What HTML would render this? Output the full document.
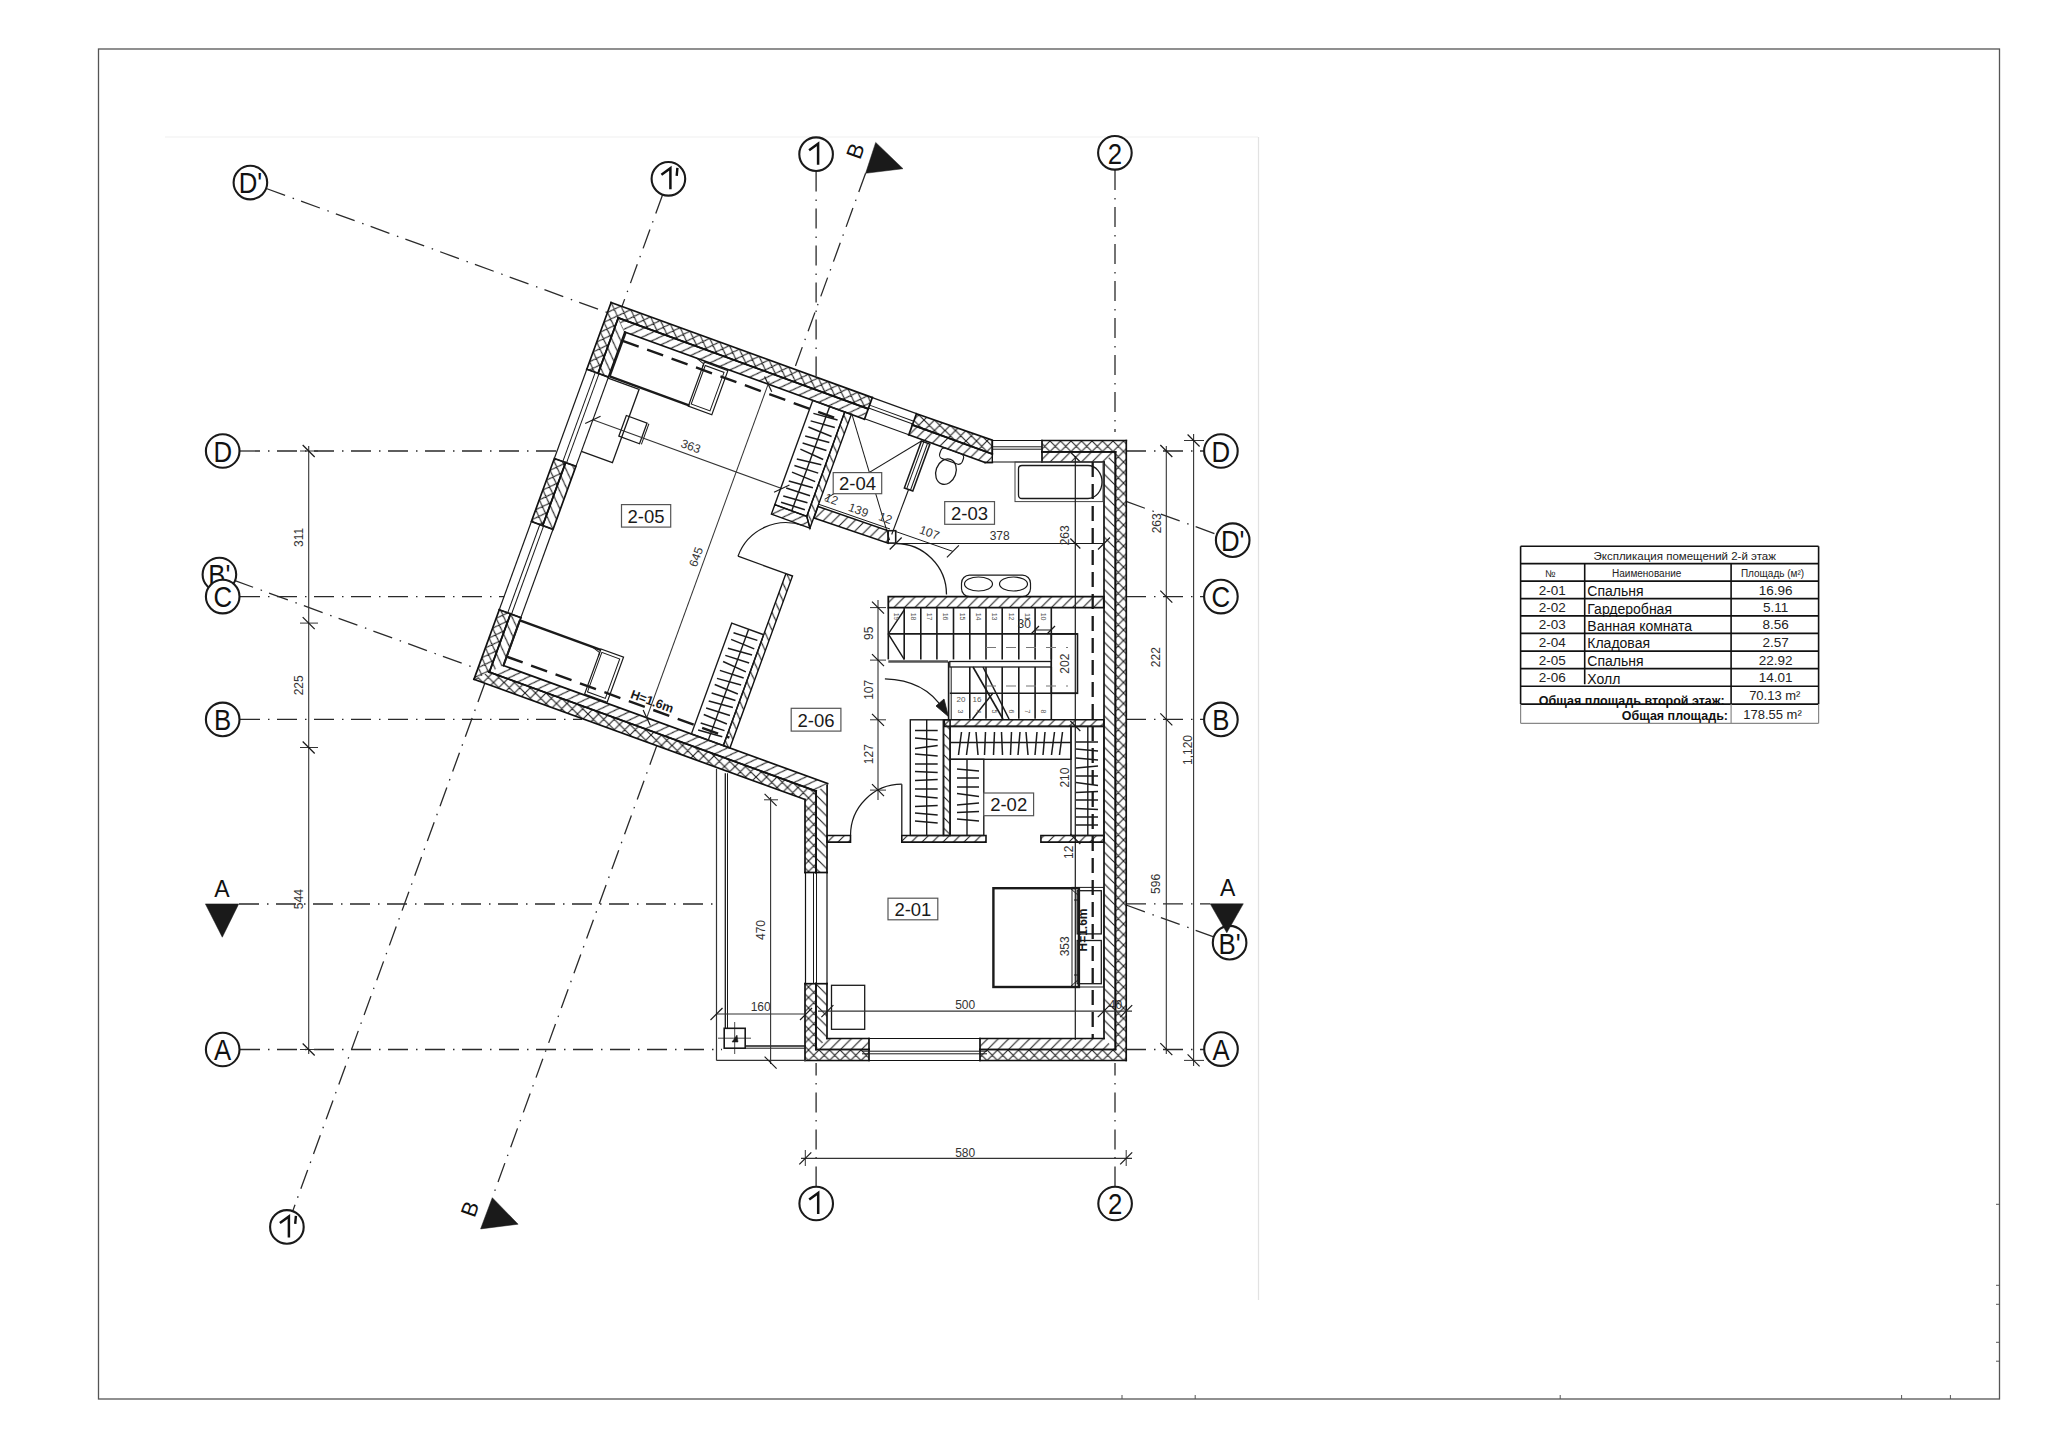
<!DOCTYPE html><html><head><meta charset="utf-8"><style>html,body{margin:0;padding:0;background:#fff;}svg{display:block;}text{font-family:"Liberation Sans",sans-serif;}</style></head><body>
<svg width="2048" height="1448" viewBox="0 0 2048 1448">
<defs>
<pattern id="cr" patternUnits="userSpaceOnUse" width="10.5" height="10.5"><path d="M0,0L10.5,10.5M10.5,0L0,10.5M-1,9.5L1,11.5M9.5,-1L11.5,1M-1,1L1,-1M9.5,11.5L11.5,9.5" stroke="#1e1e1e" stroke-width="1.1"/></pattern>
<pattern id="dh" patternUnits="userSpaceOnUse" width="10.5" height="10.5"><path d="M0,10.5L10.5,0M-2,2L2,-2M8.5,12.5L12.5,8.5" stroke="#1e1e1e" stroke-width="1.1"/></pattern>
<pattern id="dv" patternUnits="userSpaceOnUse" width="10.5" height="10.5"><path d="M0,0L10.5,10.5M-2,8.5L2,12.5M8.5,-2L12.5,2" stroke="#1e1e1e" stroke-width="1.1"/></pattern>
</defs>
<rect width="2048" height="1448" fill="#fff"/>
<line x1="165.0" y1="137.0" x2="1258.0" y2="137.0" stroke="#efefef" stroke-width="1" />
<line x1="1258.5" y1="137.0" x2="1258.5" y2="1300.0" stroke="#e2e2e2" stroke-width="1.2" />
<rect x="98.5" y="49.0" width="1901.0" height="1350.0" fill="none" stroke="#555" stroke-width="1.3" />
<line x1="1996.0" y1="1204.3" x2="2000.0" y2="1204.3" stroke="#555" stroke-width="1" />
<line x1="1996.0" y1="1285.3" x2="2000.0" y2="1285.3" stroke="#555" stroke-width="1" />
<line x1="1996.0" y1="1304.3" x2="2000.0" y2="1304.3" stroke="#555" stroke-width="1" />
<line x1="1996.0" y1="1342.3" x2="2000.0" y2="1342.3" stroke="#555" stroke-width="1" />
<line x1="1996.0" y1="1361.2" x2="2000.0" y2="1361.2" stroke="#555" stroke-width="1" />
<line x1="1122.0" y1="1395.0" x2="1122.0" y2="1399.0" stroke="#555" stroke-width="1" />
<line x1="1195.2" y1="1395.0" x2="1195.2" y2="1399.0" stroke="#555" stroke-width="1" />
<line x1="1560.2" y1="1395.0" x2="1560.2" y2="1399.0" stroke="#555" stroke-width="1" />
<line x1="1901.6" y1="1395.0" x2="1901.6" y2="1399.0" stroke="#555" stroke-width="1" />
<line x1="1950.4" y1="1395.0" x2="1950.4" y2="1399.0" stroke="#555" stroke-width="1" />
<line x1="240.0" y1="451.0" x2="557.0" y2="451.0" stroke="#2a2a2a" stroke-width="1.3" stroke-dasharray="20 8 1.5 7.5" stroke-dashoffset="0"/>
<line x1="1126.0" y1="451.0" x2="1204.0" y2="451.0" stroke="#2a2a2a" stroke-width="1.3" stroke-dasharray="20 8 1.5 7.5" stroke-dashoffset="0"/>
<line x1="240.0" y1="596.6" x2="504.0" y2="596.6" stroke="#2a2a2a" stroke-width="1.3" stroke-dasharray="20 8 1.5 7.5" stroke-dashoffset="0"/>
<line x1="1126.0" y1="596.6" x2="1204.0" y2="596.6" stroke="#2a2a2a" stroke-width="1.3" stroke-dasharray="20 8 1.5 7.5" stroke-dashoffset="0"/>
<line x1="240.0" y1="719.4" x2="582.0" y2="719.4" stroke="#2a2a2a" stroke-width="1.3" stroke-dasharray="20 8 1.5 7.5" stroke-dashoffset="0"/>
<line x1="1126.0" y1="719.4" x2="1204.0" y2="719.4" stroke="#2a2a2a" stroke-width="1.3" stroke-dasharray="20 8 1.5 7.5" stroke-dashoffset="0"/>
<line x1="240.0" y1="1049.5" x2="722.0" y2="1049.5" stroke="#2a2a2a" stroke-width="1.3" stroke-dasharray="20 8 1.5 7.5" stroke-dashoffset="0"/>
<line x1="1126.0" y1="1049.5" x2="1204.0" y2="1049.5" stroke="#2a2a2a" stroke-width="1.3" stroke-dasharray="20 8 1.5 7.5" stroke-dashoffset="0"/>
<line x1="239.0" y1="904.0" x2="716.0" y2="904.0" stroke="#2a2a2a" stroke-width="1.3" stroke-dasharray="20 8 1.5 7.5" stroke-dashoffset="0"/>
<line x1="1126.0" y1="903.8" x2="1210.0" y2="903.8" stroke="#2a2a2a" stroke-width="1.3" stroke-dasharray="20 8 1.5 7.5" stroke-dashoffset="0"/>
<line x1="816.1" y1="171.5" x2="816.1" y2="376.0" stroke="#2a2a2a" stroke-width="1.3" stroke-dasharray="20 8 1.5 7.5" stroke-dashoffset="0"/>
<line x1="816.1" y1="1186.5" x2="816.1" y2="1063.0" stroke="#2a2a2a" stroke-width="1.3" stroke-dasharray="20 8 1.5 7.5" stroke-dashoffset="0"/>
<line x1="1115.0" y1="170.0" x2="1115.0" y2="432.0" stroke="#2a2a2a" stroke-width="1.3" stroke-dasharray="20 8 1.5 7.5" stroke-dashoffset="0"/>
<line x1="1115.0" y1="1186.5" x2="1115.0" y2="1063.0" stroke="#2a2a2a" stroke-width="1.3" stroke-dasharray="20 8 1.5 7.5" stroke-dashoffset="0"/>
<line x1="662.6" y1="194.8" x2="622.0" y2="306.4" stroke="#2a2a2a" stroke-width="1.3" stroke-dasharray="20 8 1.5 7.5" stroke-dashoffset="0"/>
<line x1="484.8" y1="683.2" x2="292.9" y2="1210.6" stroke="#2a2a2a" stroke-width="1.3" stroke-dasharray="20 8 1.5 7.5" stroke-dashoffset="0"/>
<line x1="865.6" y1="173.3" x2="794.3" y2="369.1" stroke="#2a2a2a" stroke-width="1.3" stroke-dasharray="20 8 1.5 7.5" stroke-dashoffset="0"/>
<line x1="656.7" y1="745.9" x2="492.3" y2="1197.7" stroke="#2a2a2a" stroke-width="1.3" stroke-dasharray="20 8 1.5 7.5" stroke-dashoffset="0"/>
<line x1="266.3" y1="188.5" x2="607.4" y2="312.6" stroke="#2a2a2a" stroke-width="1.3" stroke-dasharray="20 8 1.5 7.5" stroke-dashoffset="0"/>
<line x1="1126.1" y1="501.4" x2="1216.8" y2="534.4" stroke="#2a2a2a" stroke-width="1.3" stroke-dasharray="20 8 1.5 7.5" stroke-dashoffset="0"/>
<line x1="234.3" y1="580.4" x2="477.7" y2="669.0" stroke="#2a2a2a" stroke-width="1.3" stroke-dasharray="20 8 1.5 7.5" stroke-dashoffset="0"/>
<line x1="1126.1" y1="905.0" x2="1214.4" y2="937.1" stroke="#2a2a2a" stroke-width="1.3" stroke-dasharray="20 8 1.5 7.5" stroke-dashoffset="0"/>
<circle cx="250.4" cy="182.6" r="16.8" fill="white" stroke="#1a1a1a" stroke-width="2.1"/>
<text transform="translate(250.4,193.4) scale(0.86,1)" font-size="30" text-anchor="middle" fill="#111">D'</text>
<circle cx="222.7" cy="451.0" r="16.8" fill="white" stroke="#1a1a1a" stroke-width="2.1"/>
<text transform="translate(222.7,461.8) scale(0.86,1)" font-size="30" text-anchor="middle" fill="#111">D</text>
<circle cx="219.4" cy="574.5" r="16.8" fill="white" stroke="#1a1a1a" stroke-width="2.1"/>
<text transform="translate(219.4,585.3) scale(0.86,1)" font-size="30" text-anchor="middle" fill="#111">B'</text>
<circle cx="222.7" cy="596.6" r="16.8" fill="white" stroke="#1a1a1a" stroke-width="2.1"/>
<text transform="translate(222.7,607.4) scale(0.86,1)" font-size="30" text-anchor="middle" fill="#111">C</text>
<circle cx="222.7" cy="719.4" r="16.8" fill="white" stroke="#1a1a1a" stroke-width="2.1"/>
<text transform="translate(222.7,730.2) scale(0.86,1)" font-size="30" text-anchor="middle" fill="#111">B</text>
<circle cx="222.7" cy="1049.5" r="16.8" fill="white" stroke="#1a1a1a" stroke-width="2.1"/>
<text transform="translate(222.7,1060.3) scale(0.86,1)" font-size="30" text-anchor="middle" fill="#111">A</text>
<circle cx="1220.9" cy="451.0" r="16.8" fill="white" stroke="#1a1a1a" stroke-width="2.1"/>
<text transform="translate(1220.9,461.8) scale(0.86,1)" font-size="30" text-anchor="middle" fill="#111">D</text>
<circle cx="1232.7" cy="540.2" r="16.8" fill="white" stroke="#1a1a1a" stroke-width="2.1"/>
<text transform="translate(1232.7,551.0) scale(0.86,1)" font-size="30" text-anchor="middle" fill="#111">D'</text>
<circle cx="1220.9" cy="596.6" r="16.8" fill="white" stroke="#1a1a1a" stroke-width="2.1"/>
<text transform="translate(1220.9,607.4) scale(0.86,1)" font-size="30" text-anchor="middle" fill="#111">C</text>
<circle cx="1220.9" cy="719.4" r="16.8" fill="white" stroke="#1a1a1a" stroke-width="2.1"/>
<text transform="translate(1220.9,730.2) scale(0.86,1)" font-size="30" text-anchor="middle" fill="#111">B</text>
<circle cx="1229.6" cy="942.7" r="16.8" fill="white" stroke="#1a1a1a" stroke-width="2.1"/>
<text transform="translate(1229.6,953.5) scale(0.86,1)" font-size="30" text-anchor="middle" fill="#111">B'</text>
<circle cx="1221.0" cy="1049.1" r="16.8" fill="white" stroke="#1a1a1a" stroke-width="2.1"/>
<text transform="translate(1221.0,1059.9) scale(0.86,1)" font-size="30" text-anchor="middle" fill="#111">A</text>
<circle cx="816.1" cy="154.2" r="16.8" fill="white" stroke="#1a1a1a" stroke-width="2.1"/>
<path d="M809.1,150.2 L818.1,143.7 L818.1,164.7" fill="none" stroke="#111" stroke-width="2.5" stroke-linejoin="miter"/>
<circle cx="1114.9" cy="152.8" r="16.8" fill="white" stroke="#1a1a1a" stroke-width="2.1"/>
<text transform="translate(1114.9,163.6) scale(0.86,1)" font-size="30" text-anchor="middle" fill="#111">2</text>
<circle cx="668.4" cy="178.8" r="16.8" fill="white" stroke="#1a1a1a" stroke-width="2.1"/>
<path d="M661.4,174.8 L670.4,168.3 L670.4,189.3" fill="none" stroke="#111" stroke-width="2.5" stroke-linejoin="miter"/>
<path d="M677.4,167.8 L676.7,175.8" stroke="#111" stroke-width="2.4"/>
<circle cx="816.2" cy="1203.5" r="16.8" fill="white" stroke="#1a1a1a" stroke-width="2.1"/>
<path d="M809.2,1199.5 L818.2,1193.0 L818.2,1214.0" fill="none" stroke="#111" stroke-width="2.5" stroke-linejoin="miter"/>
<circle cx="1115.1" cy="1203.5" r="16.8" fill="white" stroke="#1a1a1a" stroke-width="2.1"/>
<text transform="translate(1115.1,1214.3) scale(0.86,1)" font-size="30" text-anchor="middle" fill="#111">2</text>
<circle cx="286.9" cy="1226.9" r="16.8" fill="white" stroke="#1a1a1a" stroke-width="2.1"/>
<path d="M279.9,1222.9 L288.9,1216.4 L288.9,1237.4" fill="none" stroke="#111" stroke-width="2.5" stroke-linejoin="miter"/>
<path d="M295.9,1215.9 L295.2,1223.9" stroke="#111" stroke-width="2.4"/>
<polygon points="205.4,903.9 238.7,903.9 222.3,937.2" fill="#1a1a1a" stroke="#1a1a1a" stroke-width="0.5" />
<text x="221.8" y="896.5" font-size="23" text-anchor="middle" font-weight="normal" fill="#111" >A</text>
<polygon points="1210.2,903.8 1243.3,903.8 1226.8,932.8" fill="#1a1a1a" stroke="#1a1a1a" stroke-width="0.5" />
<text x="1227.6" y="895.5" font-size="23" text-anchor="middle" font-weight="normal" fill="#111" >A</text>
<polygon points="875.7,142.4 903.0,168.7 865.6,173.3" fill="#1a1a1a" stroke="#1a1a1a" stroke-width="0.5" />
<text x="855.5" y="151.0" font-size="22" text-anchor="middle" font-weight="normal" fill="#111" transform="rotate(-70 855.5 151.0)" dominant-baseline="central">B</text>
<polygon points="492.3,1197.7 518.1,1224.2 480.6,1228.9" fill="#1a1a1a" stroke="#1a1a1a" stroke-width="0.5" />
<text x="470.0" y="1209.0" font-size="22" text-anchor="middle" font-weight="normal" fill="#111" transform="rotate(-70 470.0 1209.0)" dominant-baseline="central">B</text>
<line x1="308.7" y1="446.0" x2="308.7" y2="1054.0" stroke="#333" stroke-width="1.1" />
<line x1="300.0" y1="451.0" x2="318.0" y2="451.0" stroke="#333" stroke-width="1.0" />
<line x1="302.7" y1="445.0" x2="314.7" y2="457.0" stroke="#1a1a1a" stroke-width="1.2" />
<line x1="300.0" y1="623.1" x2="318.0" y2="623.1" stroke="#333" stroke-width="1.0" />
<line x1="302.7" y1="617.1" x2="314.7" y2="629.1" stroke="#1a1a1a" stroke-width="1.2" />
<line x1="300.0" y1="747.5" x2="318.0" y2="747.5" stroke="#333" stroke-width="1.0" />
<line x1="302.7" y1="741.5" x2="314.7" y2="753.5" stroke="#1a1a1a" stroke-width="1.2" />
<line x1="300.0" y1="1049.5" x2="318.0" y2="1049.5" stroke="#333" stroke-width="1.0" />
<line x1="302.7" y1="1043.5" x2="314.7" y2="1055.5" stroke="#1a1a1a" stroke-width="1.2" />
<text x="303.3" y="537.4" font-size="12" text-anchor="middle" font-weight="normal" fill="#333" transform="rotate(-90 303.3 537.4)" dominant-baseline="auto">311</text>
<text x="303.3" y="685.3" font-size="12" text-anchor="middle" font-weight="normal" fill="#333" transform="rotate(-90 303.3 685.3)" >225</text>
<text x="303.3" y="899.2" font-size="12" text-anchor="middle" font-weight="normal" fill="#333" transform="rotate(-90 303.3 899.2)" >544</text>
<line x1="1166.3" y1="446.0" x2="1166.3" y2="1054.0" stroke="#333" stroke-width="1.1" />
<line x1="1160.3" y1="445.0" x2="1172.3" y2="457.0" stroke="#1a1a1a" stroke-width="1.2" />
<line x1="1160.3" y1="590.6" x2="1172.3" y2="602.6" stroke="#1a1a1a" stroke-width="1.2" />
<line x1="1160.3" y1="713.4" x2="1172.3" y2="725.4" stroke="#1a1a1a" stroke-width="1.2" />
<line x1="1160.3" y1="1043.1" x2="1172.3" y2="1055.1" stroke="#1a1a1a" stroke-width="1.2" />
<text x="1160.6" y="523.3" font-size="12" text-anchor="middle" font-weight="normal" fill="#333" transform="rotate(-90 1160.6 523.3)" >263</text>
<text x="1159.9" y="657.1" font-size="12" text-anchor="middle" font-weight="normal" fill="#333" transform="rotate(-90 1159.9 657.1)" >222</text>
<text x="1159.7" y="883.9" font-size="12" text-anchor="middle" font-weight="normal" fill="#333" transform="rotate(-90 1159.7 883.9)" >596</text>
<line x1="1193.6" y1="434.0" x2="1193.6" y2="1066.0" stroke="#333" stroke-width="1.1" />
<line x1="1184.0" y1="440.5" x2="1204.0" y2="440.5" stroke="#333" stroke-width="1.0" />
<line x1="1187.6" y1="434.5" x2="1199.6" y2="446.5" stroke="#1a1a1a" stroke-width="1.2" />
<line x1="1184.0" y1="1060.4" x2="1204.0" y2="1060.4" stroke="#333" stroke-width="1.0" />
<line x1="1187.6" y1="1054.4" x2="1199.6" y2="1066.4" stroke="#1a1a1a" stroke-width="1.2" />
<text x="1191.5" y="750.0" font-size="12" text-anchor="middle" font-weight="normal" fill="#333" transform="rotate(-90 1191.5 750.0)" >1,120</text>
<line x1="801.0" y1="1158.4" x2="1132.0" y2="1158.4" stroke="#333" stroke-width="1.1" />
<line x1="805.3" y1="1150.0" x2="805.3" y2="1166.0" stroke="#333" stroke-width="1.0" />
<line x1="799.3" y1="1164.4" x2="811.3" y2="1152.4" stroke="#1a1a1a" stroke-width="1.2" />
<line x1="1126.2" y1="1150.0" x2="1126.2" y2="1166.0" stroke="#333" stroke-width="1.0" />
<line x1="1120.2" y1="1164.4" x2="1132.2" y2="1152.4" stroke="#1a1a1a" stroke-width="1.2" />
<text x="965.2" y="1157.0" font-size="12" text-anchor="middle" font-weight="normal" fill="#333" >580</text>
<line x1="1520.6" y1="546.3" x2="1818.6" y2="546.3" stroke="#111" stroke-width="1.6" />
<line x1="1520.6" y1="563.6" x2="1818.6" y2="563.6" stroke="#111" stroke-width="1.6" />
<line x1="1520.6" y1="581.1" x2="1818.6" y2="581.1" stroke="#111" stroke-width="1.6" />
<line x1="1520.6" y1="598.6" x2="1818.6" y2="598.6" stroke="#111" stroke-width="1.6" />
<line x1="1520.6" y1="615.9" x2="1818.6" y2="615.9" stroke="#111" stroke-width="1.6" />
<line x1="1520.6" y1="633.4" x2="1818.6" y2="633.4" stroke="#111" stroke-width="1.6" />
<line x1="1520.6" y1="651.1" x2="1818.6" y2="651.1" stroke="#111" stroke-width="1.6" />
<line x1="1520.6" y1="668.6" x2="1818.6" y2="668.6" stroke="#111" stroke-width="1.6" />
<line x1="1520.6" y1="686.2" x2="1818.6" y2="686.2" stroke="#111" stroke-width="1.6" />
<line x1="1520.6" y1="704.1" x2="1818.6" y2="704.1" stroke="#111" stroke-width="1.6" />
<line x1="1520.6" y1="723.3" x2="1818.6" y2="723.3" stroke="#888" stroke-width="1.2" />
<line x1="1520.6" y1="546.3" x2="1520.6" y2="704.1" stroke="#111" stroke-width="1.6" />
<line x1="1520.6" y1="704.1" x2="1520.6" y2="723.3" stroke="#888" stroke-width="1.2" />
<line x1="1818.6" y1="546.3" x2="1818.6" y2="704.1" stroke="#111" stroke-width="1.6" />
<line x1="1818.6" y1="704.1" x2="1818.6" y2="723.3" stroke="#888" stroke-width="1.2" />
<line x1="1584.7" y1="563.6" x2="1584.7" y2="684.2" stroke="#111" stroke-width="1.6" />
<line x1="1731.1" y1="563.6" x2="1731.1" y2="704.1" stroke="#111" stroke-width="1.6" />
<line x1="1731.1" y1="704.1" x2="1731.1" y2="723.3" stroke="#888" stroke-width="1.2" />
<text x="1684.7" y="559.5" font-size="11.5" text-anchor="middle" font-weight="normal" fill="#222" >Экспликация помещений 2-й этаж</text>
<text x="1550.3" y="577.0" font-size="10" text-anchor="middle" font-weight="normal" fill="#222" >№</text>
<text x="1646.7" y="577.0" font-size="10" text-anchor="middle" font-weight="normal" fill="#222" >Наименование</text>
<text x="1772.5" y="577.0" font-size="10" text-anchor="middle" font-weight="normal" fill="#222" >Площадь (м²)</text>
<text x="1552.2" y="594.6" font-size="13.5" text-anchor="middle" font-weight="normal" fill="#222" >2-01</text>
<text x="1587.3" y="596.1" font-size="14" text-anchor="start" font-weight="normal" fill="#111" >Спальня</text>
<text x="1775.6" y="594.6" font-size="13.5" text-anchor="middle" font-weight="normal" fill="#222" >16.96</text>
<text x="1552.2" y="612.1" font-size="13.5" text-anchor="middle" font-weight="normal" fill="#222" >2-02</text>
<text x="1587.3" y="613.6" font-size="14" text-anchor="start" font-weight="normal" fill="#111" >Гардеробная</text>
<text x="1775.6" y="612.1" font-size="13.5" text-anchor="middle" font-weight="normal" fill="#222" >5.11</text>
<text x="1552.2" y="629.4" font-size="13.5" text-anchor="middle" font-weight="normal" fill="#222" >2-03</text>
<text x="1587.3" y="630.9" font-size="14" text-anchor="start" font-weight="normal" fill="#111" >Ванная комната</text>
<text x="1775.6" y="629.4" font-size="13.5" text-anchor="middle" font-weight="normal" fill="#222" >8.56</text>
<text x="1552.2" y="646.9" font-size="13.5" text-anchor="middle" font-weight="normal" fill="#222" >2-04</text>
<text x="1587.3" y="648.4" font-size="14" text-anchor="start" font-weight="normal" fill="#111" >Кладовая</text>
<text x="1775.6" y="646.9" font-size="13.5" text-anchor="middle" font-weight="normal" fill="#222" >2.57</text>
<text x="1552.2" y="664.6" font-size="13.5" text-anchor="middle" font-weight="normal" fill="#222" >2-05</text>
<text x="1587.3" y="666.1" font-size="14" text-anchor="start" font-weight="normal" fill="#111" >Спальня</text>
<text x="1775.6" y="664.6" font-size="13.5" text-anchor="middle" font-weight="normal" fill="#222" >22.92</text>
<text x="1552.2" y="682.1" font-size="13.5" text-anchor="middle" font-weight="normal" fill="#222" >2-06</text>
<text x="1587.3" y="683.6" font-size="14" text-anchor="start" font-weight="normal" fill="#111" >Холл</text>
<text x="1775.6" y="682.1" font-size="13.5" text-anchor="middle" font-weight="normal" fill="#222" >14.01</text>
<text x="1724.8" y="704.5" font-size="12.5" text-anchor="end" font-weight="bold" fill="#111" >Общая площадь второй этаж:</text>
<text x="1774.8" y="699.5" font-size="13" text-anchor="middle" font-weight="normal" fill="#222" >70.13 m²</text>
<text x="1728.0" y="720.0" font-size="12.5" text-anchor="end" font-weight="bold" fill="#111" >Общая площадь:</text>
<text x="1772.5" y="718.5" font-size="13" text-anchor="middle" font-weight="normal" fill="#222" >178.55 m²</text>
<g transform="translate(611.1,302.5) rotate(20)">
<polygon points="0.0,0.0 12.0,12.0 12.0,71.0 0.0,71.0" fill="url(#cr)" stroke="none" stroke-width="0" />
<line x1="12.0" y1="12.0" x2="12.0" y2="71.0" stroke="#111" stroke-width="1.7" stroke-linecap="square"/>
<line x1="12.0" y1="71.0" x2="0.0" y2="71.0" stroke="#111" stroke-width="1.7" stroke-linecap="square"/>
<line x1="0.0" y1="71.0" x2="0.0" y2="0.0" stroke="#111" stroke-width="1.7" stroke-linecap="square"/>
<polygon points="12.0,12.0 23.0,23.0 23.0,71.0 12.0,71.0" fill="url(#dv)" stroke="none" stroke-width="0" />
<line x1="23.0" y1="23.0" x2="23.0" y2="71.0" stroke="#111" stroke-width="1.7" stroke-linecap="square"/>
<line x1="23.0" y1="71.0" x2="12.0" y2="71.0" stroke="#111" stroke-width="1.7" stroke-linecap="square"/>
<line x1="12.0" y1="71.0" x2="12.0" y2="12.0" stroke="#111" stroke-width="1.7" stroke-linecap="square"/>
<polygon points="0.0,166.0 12.0,166.0 12.0,233.0 0.0,233.0" fill="url(#cr)" stroke="#111" stroke-width="1.7" />
<polygon points="12.0,166.0 23.0,166.0 23.0,233.0 12.0,233.0" fill="url(#dv)" stroke="#111" stroke-width="1.7" />
<polygon points="0.0,327.0 12.0,327.0 12.0,389.0 0.0,401.0" fill="url(#cr)" stroke="none" stroke-width="0" />
<line x1="0.0" y1="327.0" x2="12.0" y2="327.0" stroke="#111" stroke-width="1.7" stroke-linecap="square"/>
<line x1="12.0" y1="327.0" x2="12.0" y2="389.0" stroke="#111" stroke-width="1.7" stroke-linecap="square"/>
<line x1="0.0" y1="401.0" x2="0.0" y2="327.0" stroke="#111" stroke-width="1.7" stroke-linecap="square"/>
<polygon points="12.0,327.0 23.0,327.0 23.0,378.0 12.0,389.0" fill="url(#dv)" stroke="none" stroke-width="0" />
<line x1="12.0" y1="327.0" x2="23.0" y2="327.0" stroke="#111" stroke-width="1.7" stroke-linecap="square"/>
<line x1="23.0" y1="327.0" x2="23.0" y2="378.0" stroke="#111" stroke-width="1.7" stroke-linecap="square"/>
<line x1="12.0" y1="389.0" x2="12.0" y2="327.0" stroke="#111" stroke-width="1.7" stroke-linecap="square"/>
<polyline points="0.0,71.0 0.0,166.0" fill="none" stroke="#1a1a1a" stroke-width="1.2" />
<polyline points="23.0,71.0 23.0,166.0" fill="none" stroke="#1a1a1a" stroke-width="1.2" />
<polyline points="9.0,71.0 9.0,166.0" fill="none" stroke="#1a1a1a" stroke-width="1.0" />
<polyline points="13.0,71.0 13.0,166.0" fill="none" stroke="#1a1a1a" stroke-width="1.0" />
<polyline points="0.0,71.0 23.0,71.0" fill="none" stroke="#1a1a1a" stroke-width="1.2" />
<polyline points="0.0,166.0 23.0,166.0" fill="none" stroke="#1a1a1a" stroke-width="1.2" />
<polyline points="0.0,233.0 0.0,327.0" fill="none" stroke="#1a1a1a" stroke-width="1.2" />
<polyline points="23.0,233.0 23.0,327.0" fill="none" stroke="#1a1a1a" stroke-width="1.2" />
<polyline points="9.0,233.0 9.0,327.0" fill="none" stroke="#1a1a1a" stroke-width="1.0" />
<polyline points="13.0,233.0 13.0,327.0" fill="none" stroke="#1a1a1a" stroke-width="1.0" />
<polyline points="0.0,233.0 23.0,233.0" fill="none" stroke="#1a1a1a" stroke-width="1.2" />
<polyline points="0.0,327.0 23.0,327.0" fill="none" stroke="#1a1a1a" stroke-width="1.2" />
<polygon points="0.0,0.0 278.0,0.0 278.0,12.0 12.0,12.0" fill="url(#cr)" stroke="none" stroke-width="0" />
<line x1="0.0" y1="0.0" x2="278.0" y2="0.0" stroke="#111" stroke-width="1.7" stroke-linecap="square"/>
<line x1="278.0" y1="0.0" x2="278.0" y2="12.0" stroke="#111" stroke-width="1.7" stroke-linecap="square"/>
<line x1="278.0" y1="12.0" x2="12.0" y2="12.0" stroke="#111" stroke-width="1.7" stroke-linecap="square"/>
<polygon points="12.0,12.0 278.0,12.0 278.0,23.0 23.0,23.0" fill="url(#dh)" stroke="none" stroke-width="0" />
<line x1="12.0" y1="12.0" x2="278.0" y2="12.0" stroke="#111" stroke-width="1.7" stroke-linecap="square"/>
<line x1="278.0" y1="12.0" x2="278.0" y2="23.0" stroke="#111" stroke-width="1.7" stroke-linecap="square"/>
<line x1="278.0" y1="23.0" x2="23.0" y2="23.0" stroke="#111" stroke-width="1.7" stroke-linecap="square"/>
<polyline points="278.0,0.0 325.0,0.0" fill="none" stroke="#1a1a1a" stroke-width="1.2" />
<polyline points="278.0,22.5 325.0,22.5" fill="none" stroke="#1a1a1a" stroke-width="1.2" />
<polyline points="278.0,8.0 325.0,8.0" fill="none" stroke="#1a1a1a" stroke-width="1.0" />
<polyline points="278.0,11.0 325.0,11.0" fill="none" stroke="#1a1a1a" stroke-width="1.0" />
</g>
<polygon points="916.5,413.7 992.3,440.1 992.3,454.0 912.4,424.9" fill="url(#cr)" stroke="#111" stroke-width="1.7" />
<polygon points="912.4,424.9 992.3,454.0 992.3,462.5 985.0,462.5 908.8,434.8" fill="url(#dh)" stroke="none" stroke-width="0" />
<line x1="912.4" y1="424.9" x2="992.3" y2="454.0" stroke="#111" stroke-width="1.7" stroke-linecap="square"/>
<line x1="992.3" y1="462.5" x2="985.0" y2="462.5" stroke="#111" stroke-width="1.7" stroke-linecap="square"/>
<line x1="985.0" y1="462.5" x2="908.8" y2="434.8" stroke="#111" stroke-width="1.7" stroke-linecap="square"/>
<line x1="908.8" y1="434.8" x2="912.4" y2="424.9" stroke="#111" stroke-width="1.7" stroke-linecap="square"/>
<line x1="992.3" y1="440.1" x2="992.3" y2="462.0" stroke="#111" stroke-width="1.4" />
<line x1="985.0" y1="462.5" x2="992.3" y2="462.5" stroke="#111" stroke-width="1.2" />
<polygon points="473.9,679.3 805.0,799.5 805.0,872.5 816.0,872.5 816.1,791.2 489.3,672.1" fill="url(#cr)" stroke="none" stroke-width="0" />
<line x1="473.9" y1="679.3" x2="805.0" y2="799.5" stroke="#111" stroke-width="1.7" stroke-linecap="square"/>
<line x1="805.0" y1="799.5" x2="805.0" y2="872.5" stroke="#111" stroke-width="1.7" stroke-linecap="square"/>
<line x1="805.0" y1="872.5" x2="816.0" y2="872.5" stroke="#111" stroke-width="1.7" stroke-linecap="square"/>
<line x1="816.0" y1="872.5" x2="816.1" y2="791.2" stroke="#111" stroke-width="1.7" stroke-linecap="square"/>
<line x1="816.1" y1="791.2" x2="489.3" y2="672.1" stroke="#111" stroke-width="1.7" stroke-linecap="square"/>
<g transform="translate(611.1,302.5) rotate(20)">
<polygon points="12.0,389.0 359.8,389.0 368.0,378.0 23.0,378.0" fill="url(#dh)" stroke="none" stroke-width="0" />
<line x1="12.0" y1="389.0" x2="359.8" y2="389.0" stroke="#111" stroke-width="1.7" stroke-linecap="square"/>
<line x1="368.0" y1="378.0" x2="23.0" y2="378.0" stroke="#111" stroke-width="1.7" stroke-linecap="square"/>
</g>
<polygon points="816.1,791.2 816.0,872.5 827.0,872.5 827.1,785.0" fill="url(#dv)" stroke="none" stroke-width="0" />
<line x1="816.1" y1="791.2" x2="816.0" y2="872.5" stroke="#111" stroke-width="1.7" stroke-linecap="square"/>
<line x1="816.0" y1="872.5" x2="827.0" y2="872.5" stroke="#111" stroke-width="1.7" stroke-linecap="square"/>
<line x1="827.0" y1="872.5" x2="827.1" y2="785.0" stroke="#111" stroke-width="1.7" stroke-linecap="square"/>
<polygon points="805.0,983.7 816.0,983.7 816.0,1049.5 805.0,1060.5" fill="url(#cr)" stroke="none" stroke-width="0" />
<line x1="805.0" y1="983.7" x2="816.0" y2="983.7" stroke="#111" stroke-width="1.7" stroke-linecap="square"/>
<line x1="816.0" y1="983.7" x2="816.0" y2="1049.5" stroke="#111" stroke-width="1.7" stroke-linecap="square"/>
<line x1="805.0" y1="1060.5" x2="805.0" y2="983.7" stroke="#111" stroke-width="1.7" stroke-linecap="square"/>
<polygon points="816.0,983.7 827.0,983.7 827.0,1038.5 816.0,1049.5" fill="url(#dv)" stroke="none" stroke-width="0" />
<line x1="816.0" y1="983.7" x2="827.0" y2="983.7" stroke="#111" stroke-width="1.7" stroke-linecap="square"/>
<line x1="827.0" y1="983.7" x2="827.0" y2="1038.5" stroke="#111" stroke-width="1.7" stroke-linecap="square"/>
<line x1="816.0" y1="1049.5" x2="816.0" y2="983.7" stroke="#111" stroke-width="1.7" stroke-linecap="square"/>
<line x1="805.5" y1="872.5" x2="805.5" y2="983.7" stroke="#111" stroke-width="1.2" />
<line x1="827.0" y1="872.5" x2="827.0" y2="983.7" stroke="#111" stroke-width="1.2" />
<line x1="813.5" y1="872.5" x2="813.5" y2="983.7" stroke="#1a1a1a" stroke-width="1.0" />
<line x1="816.5" y1="872.5" x2="816.5" y2="983.7" stroke="#1a1a1a" stroke-width="1.0" />
<polygon points="805.0,1060.5 816.0,1049.5 869.0,1049.5 869.0,1060.5" fill="url(#cr)" stroke="none" stroke-width="0" />
<line x1="816.0" y1="1049.5" x2="869.0" y2="1049.5" stroke="#111" stroke-width="1.7" stroke-linecap="square"/>
<line x1="869.0" y1="1049.5" x2="869.0" y2="1060.5" stroke="#111" stroke-width="1.7" stroke-linecap="square"/>
<line x1="869.0" y1="1060.5" x2="805.0" y2="1060.5" stroke="#111" stroke-width="1.7" stroke-linecap="square"/>
<polygon points="816.0,1049.5 827.0,1038.5 869.0,1038.5 869.0,1049.5" fill="url(#dh)" stroke="none" stroke-width="0" />
<line x1="827.0" y1="1038.5" x2="869.0" y2="1038.5" stroke="#111" stroke-width="1.7" stroke-linecap="square"/>
<line x1="869.0" y1="1038.5" x2="869.0" y2="1049.5" stroke="#111" stroke-width="1.7" stroke-linecap="square"/>
<line x1="869.0" y1="1049.5" x2="816.0" y2="1049.5" stroke="#111" stroke-width="1.7" stroke-linecap="square"/>
<polygon points="980.0,1049.5 1115.4,1049.5 1126.2,1060.5 980.0,1060.5" fill="url(#cr)" stroke="none" stroke-width="0" />
<line x1="980.0" y1="1049.5" x2="1115.4" y2="1049.5" stroke="#111" stroke-width="1.7" stroke-linecap="square"/>
<line x1="1126.2" y1="1060.5" x2="980.0" y2="1060.5" stroke="#111" stroke-width="1.7" stroke-linecap="square"/>
<line x1="980.0" y1="1060.5" x2="980.0" y2="1049.5" stroke="#111" stroke-width="1.7" stroke-linecap="square"/>
<polygon points="980.0,1038.5 1104.0,1038.5 1115.4,1049.5 980.0,1049.5" fill="url(#dh)" stroke="none" stroke-width="0" />
<line x1="980.0" y1="1038.5" x2="1104.0" y2="1038.5" stroke="#111" stroke-width="1.7" stroke-linecap="square"/>
<line x1="1115.4" y1="1049.5" x2="980.0" y2="1049.5" stroke="#111" stroke-width="1.7" stroke-linecap="square"/>
<line x1="980.0" y1="1049.5" x2="980.0" y2="1038.5" stroke="#111" stroke-width="1.7" stroke-linecap="square"/>
<line x1="869.0" y1="1060.5" x2="980.0" y2="1060.5" stroke="#111" stroke-width="1.2" />
<line x1="869.0" y1="1038.5" x2="980.0" y2="1038.5" stroke="#111" stroke-width="1.2" />
<line x1="862.0" y1="1051.2" x2="987.0" y2="1051.2" stroke="#1a1a1a" stroke-width="1.0" />
<line x1="862.0" y1="1053.8" x2="987.0" y2="1053.8" stroke="#1a1a1a" stroke-width="1.0" />
<polygon points="1115.4,451.8 1126.3,440.5 1126.2,1060.5 1115.4,1049.5" fill="url(#cr)" stroke="none" stroke-width="0" />
<line x1="1126.3" y1="440.5" x2="1126.2" y2="1060.5" stroke="#111" stroke-width="1.7" stroke-linecap="square"/>
<line x1="1115.4" y1="1049.5" x2="1115.4" y2="451.8" stroke="#111" stroke-width="1.7" stroke-linecap="square"/>
<polygon points="1104.0,462.0 1115.4,451.8 1115.4,1049.5 1104.0,1038.5" fill="url(#dv)" stroke="none" stroke-width="0" />
<line x1="1115.4" y1="451.8" x2="1115.4" y2="1049.5" stroke="#111" stroke-width="1.7" stroke-linecap="square"/>
<line x1="1104.0" y1="1038.5" x2="1104.0" y2="462.0" stroke="#111" stroke-width="1.7" stroke-linecap="square"/>
<polygon points="1042.0,440.5 1126.3,440.5 1115.4,451.8 1042.0,451.8" fill="url(#cr)" stroke="none" stroke-width="0" />
<line x1="1042.0" y1="440.5" x2="1126.3" y2="440.5" stroke="#111" stroke-width="1.7" stroke-linecap="square"/>
<line x1="1115.4" y1="451.8" x2="1042.0" y2="451.8" stroke="#111" stroke-width="1.7" stroke-linecap="square"/>
<line x1="1042.0" y1="451.8" x2="1042.0" y2="440.5" stroke="#111" stroke-width="1.7" stroke-linecap="square"/>
<polygon points="1042.0,451.8 1115.4,451.8 1104.0,462.0 1042.0,462.0" fill="url(#dh)" stroke="none" stroke-width="0" />
<line x1="1042.0" y1="451.8" x2="1115.4" y2="451.8" stroke="#111" stroke-width="1.7" stroke-linecap="square"/>
<line x1="1104.0" y1="462.0" x2="1042.0" y2="462.0" stroke="#111" stroke-width="1.7" stroke-linecap="square"/>
<line x1="1042.0" y1="462.0" x2="1042.0" y2="451.8" stroke="#111" stroke-width="1.7" stroke-linecap="square"/>
<line x1="992.3" y1="440.5" x2="1042.0" y2="440.5" stroke="#111" stroke-width="1.2" />
<line x1="992.3" y1="462.0" x2="1042.0" y2="462.0" stroke="#111" stroke-width="1.2" />
<line x1="992.3" y1="446.8" x2="1042.0" y2="446.8" stroke="#1a1a1a" stroke-width="1.0" />
<line x1="992.3" y1="449.2" x2="1042.0" y2="449.2" stroke="#1a1a1a" stroke-width="1.0" />
<g transform="translate(611.1,302.5) rotate(20)">
<polyline points="24.0,70.0 109.0,70.0" fill="none" stroke="#1a1a1a" stroke-width="2.4" />
<polyline points="24.0,23.0 24.0,70.0" fill="none" stroke="#1a1a1a" stroke-width="2.0" />
<polygon points="108.0,24.0 133.0,24.0 133.0,71.0 108.0,71.0" fill="none" stroke="#1a1a1a" stroke-width="1.2" />
<polygon points="110.0,27.0 130.0,27.0 130.0,68.0 110.0,68.0" fill="none" stroke="#1a1a1a" stroke-width="1.0" />
<polyline points="99.0,23.0 108.0,26.0 108.0,30.0" fill="none" stroke="#1a1a1a" stroke-width="1.0" />
<line x1="24.0" y1="32.0" x2="257.0" y2="32.0" stroke="#1a1a1a" stroke-width="2.4" stroke-dasharray="17 9"/>
<polyline points="23.0,72.0 56.0,72.0 56.0,150.0 23.0,150.0" fill="none" stroke="#1a1a1a" stroke-width="1.3" />
<rect x="53.0" y="101.0" width="22.0" height="22.0" fill="none" stroke="#1a1a1a" stroke-width="1.3" />
<line x1="77.0" y1="101.0" x2="77.0" y2="123.0" stroke="#1a1a1a" stroke-width="1.0" />
<line x1="23.0" y1="116.5" x2="224.0" y2="116.5" stroke="#333" stroke-width="1.0" />
<line x1="17.0" y1="122.5" x2="29.0" y2="110.5" stroke="#1a1a1a" stroke-width="1.2" />
<line x1="218.0" y1="122.5" x2="230.0" y2="110.5" stroke="#1a1a1a" stroke-width="1.2" />
<text x="124.0" y="112.0" font-size="12" text-anchor="middle" font-weight="normal" fill="#333" >363</text>
<line x1="175.5" y1="20.0" x2="175.5" y2="378.0" stroke="#333" stroke-width="1.0" />
<line x1="169.5" y1="17.0" x2="181.5" y2="29.0" stroke="#1a1a1a" stroke-width="1.2" />
<line x1="169.5" y1="372.0" x2="181.5" y2="384.0" stroke="#1a1a1a" stroke-width="1.2" />
<text x="171.0" y="210.0" font-size="12" text-anchor="middle" font-weight="normal" fill="#333" transform="rotate(-90 171.0 210.0)" >645</text>
<rect x="223.0" y="23.0" width="34.0" height="111.0" fill="none" stroke="#1a1a1a" stroke-width="1.4" />
<line x1="241.0" y1="23.0" x2="241.0" y2="134.0" stroke="#1a1a1a" stroke-width="1.4" />
<line x1="228.0" y1="35.0" x2="253.0" y2="33.0" stroke="#1a1a1a" stroke-width="1.5" />
<line x1="228.0" y1="43.0" x2="253.0" y2="41.0" stroke="#1a1a1a" stroke-width="1.5" />
<line x1="228.0" y1="49.5" x2="253.0" y2="50.5" stroke="#1a1a1a" stroke-width="1.5" />
<line x1="228.0" y1="59.0" x2="253.0" y2="57.0" stroke="#1a1a1a" stroke-width="1.5" />
<line x1="228.0" y1="66.5" x2="253.0" y2="65.5" stroke="#1a1a1a" stroke-width="1.5" />
<line x1="228.0" y1="73.0" x2="253.0" y2="75.0" stroke="#1a1a1a" stroke-width="1.5" />
<line x1="228.0" y1="83.5" x2="253.0" y2="80.5" stroke="#1a1a1a" stroke-width="1.5" />
<line x1="228.0" y1="90.5" x2="253.0" y2="89.5" stroke="#1a1a1a" stroke-width="1.5" />
<line x1="228.0" y1="97.5" x2="253.0" y2="98.5" stroke="#1a1a1a" stroke-width="1.5" />
<line x1="228.0" y1="107.0" x2="253.0" y2="105.0" stroke="#1a1a1a" stroke-width="1.5" />
<line x1="228.0" y1="114.5" x2="253.0" y2="113.5" stroke="#1a1a1a" stroke-width="1.5" />
<line x1="228.0" y1="123.0" x2="253.0" y2="121.0" stroke="#1a1a1a" stroke-width="1.5" />
<line x1="228.0" y1="129.5" x2="253.0" y2="128.5" stroke="#1a1a1a" stroke-width="1.5" />
<polygon points="257.0,23.0 264.0,23.0 264.0,144.0 257.0,134.0" fill="url(#dv)" stroke="#111" stroke-width="1.4" />
<polygon points="223.0,134.0 257.0,134.0 264.0,144.0 223.0,144.0" fill="url(#dh)" stroke="#111" stroke-width="1.4" />
<polygon points="257.0,195.0 264.0,195.0 264.0,378.0 257.0,378.0" fill="url(#dv)" stroke="#111" stroke-width="1.4" />
<rect x="223.0" y="260.0" width="34.0" height="118.0" fill="none" stroke="#1a1a1a" stroke-width="1.4" />
<line x1="241.0" y1="260.0" x2="241.0" y2="378.0" stroke="#1a1a1a" stroke-width="1.4" />
<line x1="228.0" y1="268.5" x2="253.0" y2="267.5" stroke="#1a1a1a" stroke-width="1.5" />
<line x1="228.0" y1="275.5" x2="253.0" y2="276.5" stroke="#1a1a1a" stroke-width="1.5" />
<line x1="228.0" y1="285.0" x2="253.0" y2="283.0" stroke="#1a1a1a" stroke-width="1.5" />
<line x1="228.0" y1="292.5" x2="253.0" y2="291.5" stroke="#1a1a1a" stroke-width="1.5" />
<line x1="228.0" y1="299.0" x2="253.0" y2="301.0" stroke="#1a1a1a" stroke-width="1.5" />
<line x1="228.0" y1="308.5" x2="253.0" y2="307.5" stroke="#1a1a1a" stroke-width="1.5" />
<line x1="228.0" y1="317.0" x2="253.0" y2="315.0" stroke="#1a1a1a" stroke-width="1.5" />
<line x1="228.0" y1="323.5" x2="253.0" y2="324.5" stroke="#1a1a1a" stroke-width="1.5" />
<line x1="228.0" y1="332.5" x2="253.0" y2="331.5" stroke="#1a1a1a" stroke-width="1.5" />
<line x1="228.0" y1="341.0" x2="253.0" y2="339.0" stroke="#1a1a1a" stroke-width="1.5" />
<line x1="228.0" y1="348.5" x2="253.0" y2="347.5" stroke="#1a1a1a" stroke-width="1.5" />
<line x1="228.0" y1="355.5" x2="253.0" y2="356.5" stroke="#1a1a1a" stroke-width="1.5" />
<line x1="228.0" y1="364.5" x2="253.0" y2="363.5" stroke="#1a1a1a" stroke-width="1.5" />
<line x1="228.0" y1="372.0" x2="253.0" y2="370.0" stroke="#1a1a1a" stroke-width="1.5" />
<polyline points="23.0,330.0 109.0,330.0" fill="none" stroke="#1a1a1a" stroke-width="2.4" />
<polyline points="23.0,330.0 23.0,377.0" fill="none" stroke="#1a1a1a" stroke-width="2.0" />
<polygon points="109.0,329.0 133.0,329.0 133.0,377.0 109.0,377.0" fill="none" stroke="#1a1a1a" stroke-width="1.2" />
<polygon points="111.0,332.0 130.0,332.0 130.0,374.0 111.0,374.0" fill="none" stroke="#1a1a1a" stroke-width="1.0" />
<polyline points="100.0,330.0 109.0,333.0 109.0,337.0" fill="none" stroke="#1a1a1a" stroke-width="1.0" />
<line x1="23.0" y1="368.5" x2="260.0" y2="368.5" stroke="#1a1a1a" stroke-width="2.4" stroke-dasharray="17 9"/>
<text x="175.0" y="365.0" font-size="12.5" text-anchor="middle" font-weight="bold" fill="#1a1a1a" >H=1.6m</text>
<line x1="206.0" y1="195.0" x2="257.0" y2="195.0" stroke="#1a1a1a" stroke-width="1.3" />
<path d="M206,195 A51,51 0 0 1 257,144" fill="none" stroke="#1a1a1a" stroke-width="1.2" />
<polygon points="339.0,24.0 348.0,24.0 348.0,74.0 339.0,74.0" fill="white" stroke="#1a1a1a" stroke-width="1.5" />
<polyline points="341.5,24.0 341.5,74.0" fill="none" stroke="#1a1a1a" stroke-width="1.0" />
<polyline points="345.5,24.0 345.5,74.0" fill="none" stroke="#1a1a1a" stroke-width="1.0" />
<line x1="343.5" y1="74.0" x2="343.0" y2="122.0" stroke="#1a1a1a" stroke-width="1.1" />
<line x1="264.0" y1="22.0" x2="343.0" y2="128.0" stroke="#1a1a1a" stroke-width="1.0" />
<line x1="339.0" y1="24.0" x2="268.0" y2="112.0" stroke="#1a1a1a" stroke-width="1.0" />
</g>
<polygon points="818.0,506.5 888.2,530.7 888.2,543.1 814.0,518.0" fill="url(#dh)" stroke="#111" stroke-width="1.5" />
<rect x="888.2" y="530.7" width="7.5" height="12.4" fill="none" stroke="#1a1a1a" stroke-width="1.6" />
<path d="M895.7,543.5 A51,51 0 0 1 946.5,594.5" fill="none" stroke="#1a1a1a" stroke-width="1.3" />
<line x1="895.7" y1="543.5" x2="1104.0" y2="543.5" stroke="#1a1a1a" stroke-width="1.1" />
<line x1="889.7" y1="549.5" x2="901.7" y2="537.5" stroke="#1a1a1a" stroke-width="1.2" />
<line x1="1098.0" y1="549.5" x2="1110.0" y2="537.5" stroke="#1a1a1a" stroke-width="1.2" />
<line x1="1070.3" y1="452.0" x2="1080.3" y2="462.0" stroke="#1a1a1a" stroke-width="1.2" />
<line x1="1070.3" y1="538.5" x2="1080.3" y2="548.5" stroke="#1a1a1a" stroke-width="1.2" />
<text x="999.7" y="539.5" font-size="12" text-anchor="middle" font-weight="normal" fill="#333" >378</text>
<text x="928.0" y="536.5" font-size="12" text-anchor="middle" font-weight="normal" fill="#333" transform="rotate(20 928.0 536.5)" >107</text>
<line x1="895.7" y1="531.5" x2="952.9" y2="551.4" stroke="#1a1a1a" stroke-width="1.0" />
<line x1="946.9" y1="557.4" x2="958.9" y2="545.4" stroke="#1a1a1a" stroke-width="1.2" />
<text x="857.0" y="514.0" font-size="12" text-anchor="middle" font-weight="normal" fill="#333" transform="rotate(20 857.0 514.0)" >139</text>
<text x="884.0" y="522.0" font-size="12" text-anchor="middle" font-weight="normal" fill="#333" transform="rotate(20 884.0 522.0)" >12</text>
<text x="830.0" y="503.0" font-size="12" text-anchor="middle" font-weight="normal" fill="#333" transform="rotate(20 830.0 503.0)" >12</text>
<line x1="818.0" y1="504.0" x2="890.0" y2="529.0" stroke="#1a1a1a" stroke-width="1.0" />
<rect x="1015.0" y="462.0" width="88.0" height="39.6" fill="none" stroke="#444" stroke-width="1.0" />
<path d="M1022,465.5 L1088,465.5 A14,16.5 0 0 1 1088,498.5 L1022,498.5 Q1018.5,498.5 1018.5,495 L1018.5,469 Q1018.5,465.5 1022,465.5 Z" fill="none" stroke="#1a1a1a" stroke-width="1.3" />
<line x1="1075.3" y1="456.0" x2="1075.3" y2="1040.0" stroke="#1a1a1a" stroke-width="1.2" />
<line x1="1092.7" y1="462.0" x2="1092.7" y2="1038.0" stroke="#1a1a1a" stroke-width="2.3" stroke-dasharray="15 7"/>
<text x="1069.2" y="535.3" font-size="12" text-anchor="middle" font-weight="normal" fill="#333" transform="rotate(-90 1069.2 535.3)" >263</text>
<g transform="translate(948,466) rotate(20)">
<rect x="-12.0" y="-16.0" width="24.0" height="11.0" fill="none" stroke="#1a1a1a" stroke-width="1.2" rx="4"/>
<ellipse cx="0" cy="6" rx="10" ry="13" fill="none" stroke="#1a1a1a" stroke-width="1.3"/>
</g>
<rect x="961.5" y="575.2" width="69.0" height="21.4" fill="none" stroke="#1a1a1a" stroke-width="1.2" rx="8"/>
<ellipse cx="978.5" cy="584" rx="14" ry="7" fill="none" stroke="#1a1a1a" stroke-width="1.2"/>
<ellipse cx="1013.5" cy="584" rx="14" ry="7" fill="none" stroke="#1a1a1a" stroke-width="1.2"/>
<polygon points="888.3,596.6 1103.8,596.6 1103.8,607.6 888.3,607.6" fill="url(#dh)" stroke="#111" stroke-width="1.8" />
<line x1="888.3" y1="607.6" x2="888.3" y2="659.4" stroke="#1a1a1a" stroke-width="1.6" />
<line x1="904.2" y1="607.6" x2="904.2" y2="659.4" stroke="#1a1a1a" stroke-width="1.6" />
<line x1="920.8" y1="607.6" x2="920.8" y2="659.4" stroke="#1a1a1a" stroke-width="1.6" />
<line x1="936.9" y1="607.6" x2="936.9" y2="659.4" stroke="#1a1a1a" stroke-width="1.6" />
<line x1="953.5" y1="607.6" x2="953.5" y2="659.4" stroke="#1a1a1a" stroke-width="1.6" />
<line x1="969.8" y1="607.6" x2="969.8" y2="659.4" stroke="#1a1a1a" stroke-width="1.6" />
<line x1="986.0" y1="607.6" x2="986.0" y2="659.4" stroke="#1a1a1a" stroke-width="1.6" />
<line x1="1002.2" y1="607.6" x2="1002.2" y2="659.4" stroke="#1a1a1a" stroke-width="1.6" />
<line x1="1018.8" y1="607.6" x2="1018.8" y2="659.4" stroke="#1a1a1a" stroke-width="1.6" />
<line x1="1035.1" y1="607.6" x2="1035.1" y2="659.4" stroke="#1a1a1a" stroke-width="1.6" />
<line x1="1051.3" y1="607.6" x2="1051.3" y2="659.4" stroke="#1a1a1a" stroke-width="1.6" />
<line x1="888.3" y1="633.9" x2="1077.5" y2="633.9" stroke="#1a1a1a" stroke-width="1.6" />
<line x1="888.3" y1="661.5" x2="948.0" y2="661.5" stroke="#555" stroke-width="2.6" />
<polyline points="904.2,610.0 888.3,633.9 904.2,659.4" fill="none" stroke="#1a1a1a" stroke-width="1.4" />
<rect x="1051.3" y="633.9" width="26.2" height="59.4" fill="none" stroke="#1a1a1a" stroke-width="1.6" />
<rect x="949.8" y="661.5" width="101.5" height="5.5" fill="none" stroke="#1a1a1a" stroke-width="1.3" />
<line x1="969.8" y1="667.0" x2="969.8" y2="718.8" stroke="#1a1a1a" stroke-width="1.6" />
<line x1="986.0" y1="667.0" x2="986.0" y2="718.8" stroke="#1a1a1a" stroke-width="1.6" />
<line x1="1002.2" y1="667.0" x2="1002.2" y2="718.8" stroke="#1a1a1a" stroke-width="1.6" />
<line x1="1018.8" y1="667.0" x2="1018.8" y2="718.8" stroke="#1a1a1a" stroke-width="1.6" />
<line x1="1035.1" y1="667.0" x2="1035.1" y2="718.8" stroke="#1a1a1a" stroke-width="1.6" />
<line x1="949.8" y1="693.3" x2="1077.5" y2="693.3" stroke="#1a1a1a" stroke-width="1.6" />
<line x1="948.6" y1="661.5" x2="948.6" y2="719.0" stroke="#1a1a1a" stroke-width="1.6" />
<line x1="951.2" y1="667.0" x2="951.2" y2="719.0" stroke="#1a1a1a" stroke-width="1.0" />
<line x1="1051.3" y1="667.0" x2="1051.3" y2="719.0" stroke="#1a1a1a" stroke-width="1.6" />
<line x1="973.0" y1="667.0" x2="1003.0" y2="719.0" stroke="#1a1a1a" stroke-width="1.6" />
<line x1="983.0" y1="667.0" x2="1009.0" y2="719.0" stroke="#1a1a1a" stroke-width="1.6" />
<line x1="972.5" y1="719.0" x2="993.0" y2="693.0" stroke="#1a1a1a" stroke-width="1.4" />
<line x1="986.0" y1="647.5" x2="1068.0" y2="647.5" stroke="#777" stroke-width="1.2" stroke-dasharray="10 10"/>
<line x1="986.0" y1="686.0" x2="1068.0" y2="686.0" stroke="#777" stroke-width="1.2" stroke-dasharray="10 10"/>
<text x="896.0" y="616.6" font-size="7" text-anchor="middle" font-weight="normal" fill="#555" transform="rotate(90 896.0 616.6)" dominant-baseline="middle">19</text>
<text x="912.5" y="616.6" font-size="7" text-anchor="middle" font-weight="normal" fill="#555" transform="rotate(90 912.5 616.6)" dominant-baseline="middle">18</text>
<text x="929.0" y="616.6" font-size="7" text-anchor="middle" font-weight="normal" fill="#555" transform="rotate(90 929.0 616.6)" dominant-baseline="middle">17</text>
<text x="945.0" y="616.6" font-size="7" text-anchor="middle" font-weight="normal" fill="#555" transform="rotate(90 945.0 616.6)" dominant-baseline="middle">16</text>
<text x="961.5" y="616.6" font-size="7" text-anchor="middle" font-weight="normal" fill="#555" transform="rotate(90 961.5 616.6)" dominant-baseline="middle">15</text>
<text x="978.0" y="616.6" font-size="7" text-anchor="middle" font-weight="normal" fill="#555" transform="rotate(90 978.0 616.6)" dominant-baseline="middle">14</text>
<text x="994.0" y="616.6" font-size="7" text-anchor="middle" font-weight="normal" fill="#555" transform="rotate(90 994.0 616.6)" dominant-baseline="middle">13</text>
<text x="1010.5" y="616.6" font-size="7" text-anchor="middle" font-weight="normal" fill="#555" transform="rotate(90 1010.5 616.6)" dominant-baseline="middle">12</text>
<text x="1027.0" y="616.6" font-size="7" text-anchor="middle" font-weight="normal" fill="#555" transform="rotate(90 1027.0 616.6)" dominant-baseline="middle">11</text>
<text x="1043.0" y="616.6" font-size="7" text-anchor="middle" font-weight="normal" fill="#555" transform="rotate(90 1043.0 616.6)" dominant-baseline="middle">10</text>
<text x="960.0" y="711.5" font-size="7" text-anchor="middle" font-weight="normal" fill="#555" transform="rotate(90 960.0 711.5)" dominant-baseline="middle">3</text>
<text x="978.0" y="711.5" font-size="7" text-anchor="middle" font-weight="normal" fill="#555" transform="rotate(90 978.0 711.5)" dominant-baseline="middle">4</text>
<text x="994.0" y="711.5" font-size="7" text-anchor="middle" font-weight="normal" fill="#555" transform="rotate(90 994.0 711.5)" dominant-baseline="middle">5</text>
<text x="1010.5" y="711.5" font-size="7" text-anchor="middle" font-weight="normal" fill="#555" transform="rotate(90 1010.5 711.5)" dominant-baseline="middle">6</text>
<text x="1027.0" y="711.5" font-size="7" text-anchor="middle" font-weight="normal" fill="#555" transform="rotate(90 1027.0 711.5)" dominant-baseline="middle">7</text>
<text x="1043.0" y="711.5" font-size="7" text-anchor="middle" font-weight="normal" fill="#555" transform="rotate(90 1043.0 711.5)" dominant-baseline="middle">8</text>
<text x="961.0" y="702.0" font-size="8" text-anchor="middle" font-weight="normal" fill="#555" >20</text>
<text x="977.0" y="702.0" font-size="8" text-anchor="middle" font-weight="normal" fill="#555" >16</text>
<text x="1069.2" y="663.6" font-size="12" text-anchor="middle" font-weight="normal" fill="#333" transform="rotate(-90 1069.2 663.6)" >202</text>
<text x="1024.3" y="628.0" font-size="12" text-anchor="middle" font-weight="normal" fill="#333" >30</text>
<line x1="1035.0" y1="630.0" x2="1051.0" y2="630.0" stroke="#1a1a1a" stroke-width="1.0" />
<line x1="1031.0" y1="634.0" x2="1039.0" y2="626.0" stroke="#1a1a1a" stroke-width="1.2" />
<line x1="1047.0" y1="634.0" x2="1055.0" y2="626.0" stroke="#1a1a1a" stroke-width="1.2" />
<line x1="878.0" y1="600.0" x2="878.0" y2="800.0" stroke="#333" stroke-width="1.1" />
<line x1="870.0" y1="607.6" x2="886.0" y2="607.6" stroke="#333" stroke-width="1.0" />
<line x1="872.0" y1="601.6" x2="884.0" y2="613.6" stroke="#1a1a1a" stroke-width="1.2" />
<line x1="870.0" y1="660.1" x2="886.0" y2="660.1" stroke="#333" stroke-width="1.0" />
<line x1="872.0" y1="654.1" x2="884.0" y2="666.1" stroke="#1a1a1a" stroke-width="1.2" />
<line x1="870.0" y1="719.8" x2="886.0" y2="719.8" stroke="#333" stroke-width="1.0" />
<line x1="872.0" y1="713.8" x2="884.0" y2="725.8" stroke="#1a1a1a" stroke-width="1.2" />
<line x1="870.0" y1="790.1" x2="886.0" y2="790.1" stroke="#333" stroke-width="1.0" />
<line x1="872.0" y1="784.1" x2="884.0" y2="796.1" stroke="#1a1a1a" stroke-width="1.2" />
<text x="873.0" y="633.2" font-size="12" text-anchor="middle" font-weight="normal" fill="#333" transform="rotate(-90 873.0 633.2)" >95</text>
<text x="873.0" y="689.8" font-size="12" text-anchor="middle" font-weight="normal" fill="#333" transform="rotate(-90 873.0 689.8)" >107</text>
<text x="873.0" y="754.2" font-size="12" text-anchor="middle" font-weight="normal" fill="#333" transform="rotate(-90 873.0 754.2)" >127</text>
<path d="M884.9,678.8 Q925,680 943,709" fill="none" stroke="#1a1a1a" stroke-width="1.2" />
<polygon points="936.0,706.0 948.4,716.5 944.0,699.0" fill="#1a1a1a" stroke="#1a1a1a" stroke-width="0.8" />
<polygon points="944.3,719.8 1103.9,719.8 1103.9,726.4 944.3,726.4" fill="url(#dh)" stroke="#111" stroke-width="1.6" />
<polygon points="943.5,719.8 950.1,719.8 950.1,835.5 943.5,835.5" fill="url(#dv)" stroke="#111" stroke-width="1.6" />
<polygon points="901.8,835.5 986.0,835.5 986.0,842.1 901.8,842.1" fill="url(#dh)" stroke="#111" stroke-width="1.6" />
<polygon points="1040.9,835.5 1103.9,835.5 1103.9,842.1 1040.9,842.1" fill="url(#dh)" stroke="#111" stroke-width="1.6" />
<polygon points="827.0,835.5 850.5,835.5 850.5,842.1 827.0,842.1" fill="url(#dh)" stroke="#111" stroke-width="1.6" />
<rect x="910.3" y="719.8" width="33.2" height="115.7" fill="none" stroke="#1a1a1a" stroke-width="1.4" />
<line x1="926.7" y1="719.8" x2="926.7" y2="835.5" stroke="#1a1a1a" stroke-width="1.4" />
<line x1="915.0" y1="730.5" x2="937.7" y2="730.5" stroke="#1a1a1a" stroke-width="1.5" />
<line x1="915.0" y1="738.0" x2="937.7" y2="740.0" stroke="#1a1a1a" stroke-width="1.5" />
<line x1="915.0" y1="748.5" x2="937.7" y2="745.5" stroke="#1a1a1a" stroke-width="1.5" />
<line x1="915.0" y1="754.0" x2="937.7" y2="756.0" stroke="#1a1a1a" stroke-width="1.5" />
<line x1="915.0" y1="764.0" x2="937.7" y2="764.0" stroke="#1a1a1a" stroke-width="1.5" />
<line x1="915.0" y1="771.5" x2="937.7" y2="772.5" stroke="#1a1a1a" stroke-width="1.5" />
<line x1="915.0" y1="780.5" x2="937.7" y2="779.5" stroke="#1a1a1a" stroke-width="1.5" />
<line x1="915.0" y1="789.0" x2="937.7" y2="789.0" stroke="#1a1a1a" stroke-width="1.5" />
<line x1="915.0" y1="796.0" x2="937.7" y2="798.0" stroke="#1a1a1a" stroke-width="1.5" />
<line x1="915.0" y1="806.5" x2="937.7" y2="805.5" stroke="#1a1a1a" stroke-width="1.5" />
<line x1="915.0" y1="813.0" x2="937.7" y2="815.0" stroke="#1a1a1a" stroke-width="1.5" />
<line x1="915.0" y1="821.0" x2="937.7" y2="823.0" stroke="#1a1a1a" stroke-width="1.5" />
<rect x="950.1" y="726.4" width="120.9" height="32.9" fill="none" stroke="#1a1a1a" stroke-width="1.4" />
<line x1="950.1" y1="742.5" x2="1071.0" y2="742.5" stroke="#1a1a1a" stroke-width="1.4" />
<line x1="958.5" y1="755.0" x2="961.5" y2="732.0" stroke="#1a1a1a" stroke-width="1.5" />
<line x1="966.5" y1="755.0" x2="969.5" y2="732.0" stroke="#1a1a1a" stroke-width="1.5" />
<line x1="978.0" y1="755.0" x2="976.0" y2="732.0" stroke="#1a1a1a" stroke-width="1.5" />
<line x1="984.5" y1="755.0" x2="985.5" y2="732.0" stroke="#1a1a1a" stroke-width="1.5" />
<line x1="993.5" y1="755.0" x2="994.5" y2="732.0" stroke="#1a1a1a" stroke-width="1.5" />
<line x1="1002.5" y1="755.0" x2="1001.5" y2="732.0" stroke="#1a1a1a" stroke-width="1.5" />
<line x1="1010.5" y1="755.0" x2="1011.5" y2="732.0" stroke="#1a1a1a" stroke-width="1.5" />
<line x1="1018.0" y1="755.0" x2="1020.0" y2="732.0" stroke="#1a1a1a" stroke-width="1.5" />
<line x1="1028.0" y1="755.0" x2="1026.0" y2="732.0" stroke="#1a1a1a" stroke-width="1.5" />
<line x1="1035.0" y1="755.0" x2="1037.0" y2="732.0" stroke="#1a1a1a" stroke-width="1.5" />
<line x1="1043.0" y1="755.0" x2="1045.0" y2="732.0" stroke="#1a1a1a" stroke-width="1.5" />
<line x1="1051.5" y1="755.0" x2="1054.5" y2="732.0" stroke="#1a1a1a" stroke-width="1.5" />
<line x1="1059.5" y1="755.0" x2="1062.5" y2="732.0" stroke="#1a1a1a" stroke-width="1.5" />
<rect x="950.1" y="759.3" width="33.7" height="76.2" fill="none" stroke="#1a1a1a" stroke-width="1.4" />
<line x1="967.0" y1="759.3" x2="967.0" y2="835.5" stroke="#1a1a1a" stroke-width="1.4" />
<line x1="957.0" y1="769.0" x2="979.0" y2="771.0" stroke="#1a1a1a" stroke-width="1.5" />
<line x1="957.0" y1="778.0" x2="979.0" y2="778.0" stroke="#1a1a1a" stroke-width="1.5" />
<line x1="957.0" y1="787.0" x2="979.0" y2="787.0" stroke="#1a1a1a" stroke-width="1.5" />
<line x1="957.0" y1="793.5" x2="979.0" y2="796.5" stroke="#1a1a1a" stroke-width="1.5" />
<line x1="957.0" y1="805.0" x2="979.0" y2="803.0" stroke="#1a1a1a" stroke-width="1.5" />
<line x1="957.0" y1="812.5" x2="979.0" y2="811.5" stroke="#1a1a1a" stroke-width="1.5" />
<line x1="957.0" y1="819.0" x2="979.0" y2="821.0" stroke="#1a1a1a" stroke-width="1.5" />
<rect x="1071.0" y="726.4" width="32.9" height="109.1" fill="none" stroke="#1a1a1a" stroke-width="1.4" />
<line x1="1076.0" y1="742.0" x2="1098.0" y2="742.0" stroke="#1a1a1a" stroke-width="1.5" />
<line x1="1076.0" y1="749.0" x2="1098.0" y2="751.0" stroke="#1a1a1a" stroke-width="1.5" />
<line x1="1076.0" y1="758.0" x2="1098.0" y2="760.0" stroke="#1a1a1a" stroke-width="1.5" />
<line x1="1076.0" y1="768.0" x2="1098.0" y2="766.0" stroke="#1a1a1a" stroke-width="1.5" />
<line x1="1076.0" y1="776.0" x2="1098.0" y2="776.0" stroke="#1a1a1a" stroke-width="1.5" />
<line x1="1076.0" y1="782.5" x2="1098.0" y2="785.5" stroke="#1a1a1a" stroke-width="1.5" />
<line x1="1076.0" y1="792.5" x2="1098.0" y2="791.5" stroke="#1a1a1a" stroke-width="1.5" />
<line x1="1076.0" y1="800.0" x2="1098.0" y2="800.0" stroke="#1a1a1a" stroke-width="1.5" />
<line x1="1076.0" y1="808.5" x2="1098.0" y2="809.5" stroke="#1a1a1a" stroke-width="1.5" />
<line x1="1076.0" y1="817.0" x2="1098.0" y2="817.0" stroke="#1a1a1a" stroke-width="1.5" />
<line x1="1076.0" y1="825.0" x2="1098.0" y2="825.0" stroke="#1a1a1a" stroke-width="1.5" />
<line x1="1087.8" y1="726.4" x2="1087.8" y2="835.5" stroke="#1a1a1a" stroke-width="1.4" />
<text x="1068.8" y="777.6" font-size="12" text-anchor="middle" font-weight="normal" fill="#333" transform="rotate(-90 1068.8 777.6)" >210</text>
<text x="1073.0" y="852.3" font-size="12" text-anchor="middle" font-weight="normal" fill="#333" transform="rotate(-90 1073.0 852.3)" >12</text>
<line x1="1070.3" y1="721.0" x2="1080.3" y2="731.0" stroke="#1a1a1a" stroke-width="1.2" />
<line x1="1070.3" y1="834.0" x2="1080.3" y2="844.0" stroke="#1a1a1a" stroke-width="1.2" />
<line x1="901.8" y1="784.2" x2="901.8" y2="835.5" stroke="#1a1a1a" stroke-width="1.3" />
<path d="M850.5,835.5 A51.3,51.3 0 0 1 901.8,784.2" fill="none" stroke="#1a1a1a" stroke-width="1.2" />
<rect x="993.4" y="888.2" width="85.5" height="98.8" fill="none" stroke="#1a1a1a" stroke-width="2.4" />
<rect x="1072.0" y="887.4" width="31.8" height="99.6" fill="none" stroke="#1a1a1a" stroke-width="1.0" />
<rect x="1077.2" y="890.7" width="24.1" height="43.2" fill="none" stroke="#1a1a1a" stroke-width="1.3" />
<rect x="1077.2" y="940.5" width="24.1" height="43.2" fill="none" stroke="#1a1a1a" stroke-width="1.3" />
<polyline points="1070.0,888.0 1079.0,896.0 1079.0,900.0 1074.0,900.0" fill="none" stroke="#1a1a1a" stroke-width="1.0" />
<polyline points="1070.0,987.0 1079.0,979.0 1079.0,975.0 1074.0,975.0" fill="none" stroke="#1a1a1a" stroke-width="1.0" />
<text x="1084.0" y="930.0" font-size="12" text-anchor="middle" font-weight="bold" fill="#1a1a1a" transform="rotate(-90 1084.0 930.0)" dominant-baseline="middle">H=1.6m</text>
<text x="1068.9" y="946.3" font-size="12" text-anchor="middle" font-weight="normal" fill="#333" transform="rotate(-90 1068.9 946.3)" >353</text>
<rect x="831.5" y="985.3" width="33.2" height="44.0" fill="none" stroke="#1a1a1a" stroke-width="1.3" />
<line x1="818.0" y1="1011.1" x2="1132.0" y2="1011.1" stroke="#333" stroke-width="1.1" />
<line x1="821.4" y1="1017.1" x2="833.4" y2="1005.1" stroke="#1a1a1a" stroke-width="1.2" />
<line x1="1097.8" y1="1017.1" x2="1109.8" y2="1005.1" stroke="#1a1a1a" stroke-width="1.2" />
<line x1="1120.2" y1="1017.1" x2="1132.2" y2="1005.1" stroke="#1a1a1a" stroke-width="1.2" />
<text x="965.2" y="1009.0" font-size="12" text-anchor="middle" font-weight="normal" fill="#333" >500</text>
<text x="1115.4" y="1009.0" font-size="12" text-anchor="middle" font-weight="normal" fill="#333" >40</text>
<line x1="716.5" y1="768.8" x2="716.5" y2="1060.4" stroke="#333" stroke-width="1.2" />
<line x1="716.5" y1="1060.4" x2="806.0" y2="1060.4" stroke="#333" stroke-width="1.2" />
<line x1="725.3" y1="773.3" x2="725.3" y2="1028.3" stroke="#1a1a1a" stroke-width="1.3" />
<line x1="727.5" y1="773.3" x2="727.5" y2="1028.3" stroke="#1a1a1a" stroke-width="1.0" />
<line x1="745.2" y1="1046.0" x2="806.0" y2="1046.0" stroke="#1a1a1a" stroke-width="1.3" />
<line x1="745.2" y1="1048.2" x2="806.0" y2="1048.2" stroke="#1a1a1a" stroke-width="1.0" />
<rect x="724.2" y="1028.3" width="21.0" height="19.9" fill="none" stroke="#1a1a1a" stroke-width="1.6" />
<line x1="734.7" y1="1022.0" x2="734.7" y2="1054.0" stroke="#1a1a1a" stroke-width="0.8" />
<line x1="718.0" y1="1038.2" x2="751.0" y2="1038.2" stroke="#1a1a1a" stroke-width="0.8" />
<polygon points="732.0,1042.0 737.0,1035.0 738.0,1042.0" fill="#1a1a1a" stroke="#1a1a1a" stroke-width="0.5" />
<line x1="770.6" y1="797.0" x2="770.6" y2="1064.0" stroke="#333" stroke-width="1.1" />
<line x1="764.6" y1="793.8" x2="776.6" y2="805.8" stroke="#1a1a1a" stroke-width="1.2" />
<line x1="764.6" y1="1056.6" x2="776.6" y2="1068.6" stroke="#1a1a1a" stroke-width="1.2" />
<line x1="764.0" y1="799.8" x2="778.0" y2="799.8" stroke="#333" stroke-width="1.0" />
<text x="765.1" y="930.0" font-size="12" text-anchor="middle" font-weight="normal" fill="#333" transform="rotate(-90 765.1 930.0)" >470</text>
<line x1="716.5" y1="1014.0" x2="806.0" y2="1014.0" stroke="#333" stroke-width="1.1" />
<line x1="710.5" y1="1020.0" x2="722.5" y2="1008.0" stroke="#1a1a1a" stroke-width="1.2" />
<line x1="800.0" y1="1020.0" x2="812.0" y2="1008.0" stroke="#1a1a1a" stroke-width="1.2" />
<text x="760.7" y="1011.0" font-size="12" text-anchor="middle" font-weight="normal" fill="#333" >160</text>
<rect x="621.5" y="504.6" width="49.2" height="22.5" fill="white" stroke="#555" stroke-width="1.2" />
<text x="646.1" y="522.6" font-size="18.5" text-anchor="middle" font-weight="normal" fill="#1a1a1a" >2-05</text>
<rect x="833.2" y="472.6" width="48.5" height="21.1" fill="white" stroke="#555" stroke-width="1.2" />
<text x="857.5" y="489.9" font-size="18.5" text-anchor="middle" font-weight="normal" fill="#1a1a1a" >2-04</text>
<rect x="944.7" y="501.6" width="49.8" height="22.7" fill="white" stroke="#555" stroke-width="1.2" />
<text x="969.6" y="519.8" font-size="18.5" text-anchor="middle" font-weight="normal" fill="#1a1a1a" >2-03</text>
<rect x="791.2" y="708.3" width="49.7" height="22.8" fill="white" stroke="#555" stroke-width="1.2" />
<text x="816.0" y="726.5" font-size="18.5" text-anchor="middle" font-weight="normal" fill="#1a1a1a" >2-06</text>
<rect x="983.8" y="793.0" width="49.8" height="22.7" fill="white" stroke="#555" stroke-width="1.2" />
<text x="1008.7" y="811.1" font-size="18.5" text-anchor="middle" font-weight="normal" fill="#1a1a1a" >2-02</text>
<rect x="888.0" y="898.2" width="49.8" height="21.6" fill="white" stroke="#555" stroke-width="1.2" />
<text x="912.9" y="915.8" font-size="18.5" text-anchor="middle" font-weight="normal" fill="#1a1a1a" >2-01</text>
</svg></body></html>
